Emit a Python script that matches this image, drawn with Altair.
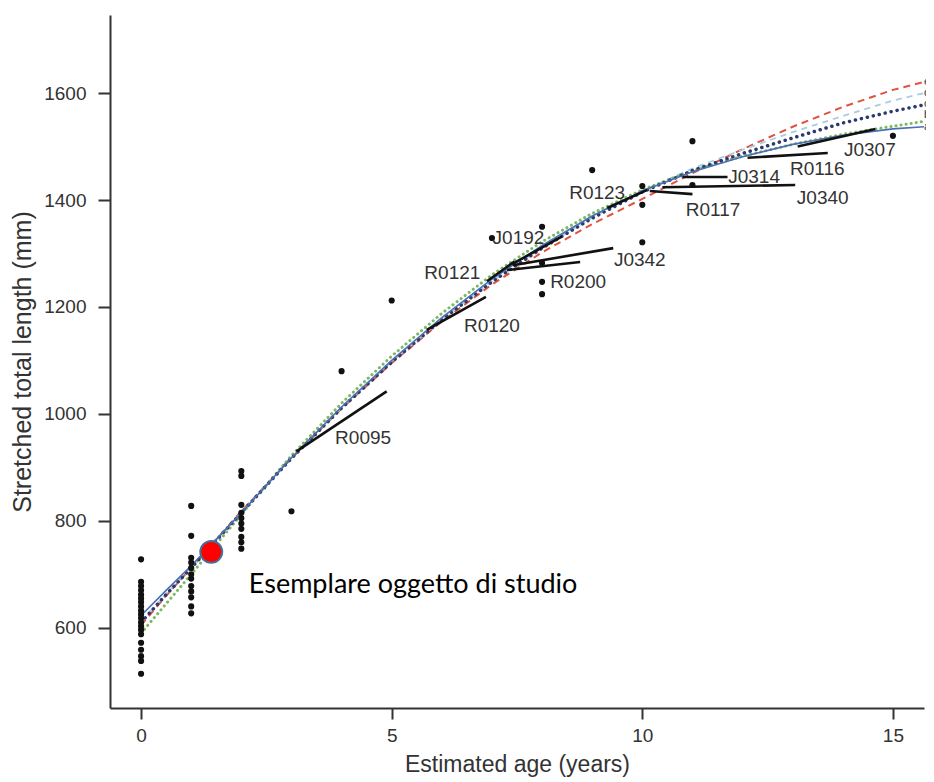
import altair as alt
import pandas as pd

# ---- fitted growth curves ----
curve_age = [0, 0.5, 1, 2, 3, 4, 5, 6, 7, 8, 9, 10, 11, 12, 13, 14, 15, 15.62]
curve_a = [623, 670, 716, 815, 918, 1013, 1100, 1180, 1252, 1315, 1370, 1417, 1453, 1481, 1504, 1521, 1533, 1537]
curve_b = [590, 645, 700, 812, 922, 1020, 1108, 1188, 1260, 1322, 1375, 1419, 1455, 1482, 1504, 1523, 1538, 1547]
curve_c = [610, 662, 712, 815, 917, 1011, 1097, 1176, 1247, 1310, 1366, 1415, 1455, 1487, 1516, 1544, 1566, 1578]
curve_d = [612, 664, 714, 816, 918, 1012, 1098, 1177, 1248, 1311, 1367, 1417, 1459, 1494, 1527, 1557, 1586, 1600]
curve_e = [605, 660, 712, 818, 917, 1010, 1095, 1173, 1242, 1302, 1355, 1402, 1450, 1495, 1537, 1574, 1606, 1621]
curve_names = ["e", "d", "c", "b", "a"]
curve_end_len = [1621, 1600, 1580, 1559, 1536]

# ---- observed specimens ----
pt_age = ([0] * 20 + [1] * 12 + [2] * 10 + [3, 4, 5, 7] + [8] * 4 + [9] + [10] * 3 + [11] * 2 + [15])
pt_len = ([728, 686, 678, 670, 662, 655, 648, 640, 632, 625, 618, 610, 603, 596, 588, 572, 559, 547, 538, 514]
          + [828, 772, 731, 722, 712, 700, 692, 678, 668, 657, 640, 627]
          + [893, 884, 830, 815, 805, 795, 785, 770, 760, 748]
          + [818, 1080, 1212, 1329]
          + [1350, 1282, 1247, 1224]
          + [1456]
          + [1426, 1391, 1321]
          + [1510, 1428]
          + [1520])

# ---- back-calculated individual growth segments ----
seg_id = ["R0095", "R0120", "R0121", "J0192", "R0200", "J0342", "R0123", "R0117", "J0314", "J0340", "R0116", "J0307"]
seg_x0 = [3.1, 5.7, 6.9, 7.4, 7.3, 7.42, 9.3, 10.15, 10.8, 10.4, 12.1, 13.1]
seg_y0 = [930, 1157, 1248, 1280, 1269, 1278, 1385, 1417, 1443, 1424, 1479, 1500]
seg_x1 = [4.9, 6.88, 7.45, 8.4, 8.76, 9.42, 10.1, 11.0, 11.7, 13.05, 13.7, 14.65]
seg_y1 = [1042, 1219, 1285, 1332, 1284, 1310, 1419, 1411, 1443, 1428, 1488, 1533]
lab_x = [4.43, 7.0, 6.21, 7.53, 8.72, 9.95, 9.1, 11.41, 12.23, 13.6, 13.49, 14.54]
lab_y = [955, 1164, 1264, 1329, 1247, 1288, 1413, 1381, 1443, 1404, 1458, 1493]

# ---- highlighted specimen ----
star_age = [1.40]
star_len = [742]
star_text = ["Esemplare oggetto di studio"]
star_text_age = [2.15]
star_text_len = [680]

xs = alt.Scale(domain=[-0.62, 15.62], nice=False, zero=False)
ys = alt.Scale(domain=[450, 1746], nice=False, zero=False)

X = lambda f: alt.X(f, type="quantitative", scale=xs,
                    axis=alt.Axis(values=[0, 5, 10, 15], title="Estimated age (years)", format="d"))
Y = lambda f: alt.Y(f, type="quantitative", scale=ys,
                    axis=alt.Axis(values=[600, 800, 1000, 1200, 1400, 1600], format="d",
                                  title="Stretched total length (mm)"))

def curve_df(vals):
    return pd.DataFrame({"age": curve_age, "len": vals})

def curve_layer(vals, color, width, dash, cap="butt"):
    kw = dict(color=color, strokeWidth=width, strokeCap=cap, clip=True)
    if dash:
        kw["strokeDash"] = dash
    return alt.Chart(curve_df(vals)).mark_line(**kw).encode(x=X("age"), y=Y("len"), order="age:Q")

layers = [
    curve_layer(curve_e, "#e0533f", 2, [7, 5]),
    curve_layer(curve_d, "#a8cde0", 1.8, [6, 5]),
    curve_layer(curve_b, "#7cb862", 3, [0.1, 5], "round"),
    curve_layer(curve_c, "#2b3a6e", 3.5, [0.1, 6], "round"),
    curve_layer(curve_a, "#4a6fb5", 1.6, None),
]

seg_df = pd.DataFrame({"id": seg_id, "x0": seg_x0, "y0": seg_y0, "x1": seg_x1, "y1": seg_y1})
segs = alt.Chart(seg_df).mark_rule(color="#111111", strokeWidth=2.6).encode(
    x=X("x0"), y=Y("y0"), x2="x1", y2="y1")

lab_df = pd.DataFrame({"id": seg_id, "x": lab_x, "y": lab_y})
labs = alt.Chart(lab_df).mark_text(font="Liberation Sans", fontSize=19, color="#333333",
                                   align="center", baseline="middle").encode(
    x=X("x"), y=Y("y"), text="id:N")

pt_df = pd.DataFrame({"age": pt_age, "len": pt_len})
pts = alt.Chart(pt_df).mark_circle(color="#111111", size=38, opacity=1).encode(x=X("age"), y=Y("len"))

end_df = pd.DataFrame({"name": curve_names, "age": [15.62] * 5, "len": curve_end_len})
ends = alt.Chart(end_df).mark_text(font="Liberation Sans", fontSize=11, color="#333333",
                                   align="left", baseline="middle", dx=0).encode(
    x=X("age"), y=Y("len"), text="name:N")

star_df = pd.DataFrame({"age": star_age, "len": star_len})
star = alt.Chart(star_df).mark_point(shape="circle", filled=True, fill="#ff0000", stroke="#41719c",
                                     strokeWidth=2, size=480, opacity=1, fillOpacity=1).encode(
    x=X("age"), y=Y("len"))

stxt_df = pd.DataFrame({"t": star_text, "age": star_text_age, "len": star_text_len})
stxt = alt.Chart(stxt_df).mark_text(font="Lato", fontSize=27, color="#000000",
                                    align="left", baseline="middle").encode(
    x=X("age"), y=Y("len"), text="t:N")

chart = alt.layer(*layers, segs, pts, labs, ends, star, stxt).properties(
    width=814, height=693,
    autosize=alt.AutoSizeParams(type="none"),
    padding={"left": 102, "top": 7, "right": 2, "bottom": 70},
).configure_view(stroke=None).configure_axis(
    grid=False, domainColor="#333333", domainWidth=2, tickColor="#333333", tickWidth=2,
    labelFont="Liberation Sans", titleFont="Liberation Sans", labelColor="#333333",
    titleColor="#333333", labelFontSize=19, titleFontWeight="normal",
).configure_axisX(tickSize=11, labelPadding=7, titlePadding=8, titleFontSize=23
).configure_axisY(tickSize=12, labelPadding=12, titlePadding=8, titleFontSize=25)

chart.save("out.html", embed_options={"renderer": "svg", "actions": False})
